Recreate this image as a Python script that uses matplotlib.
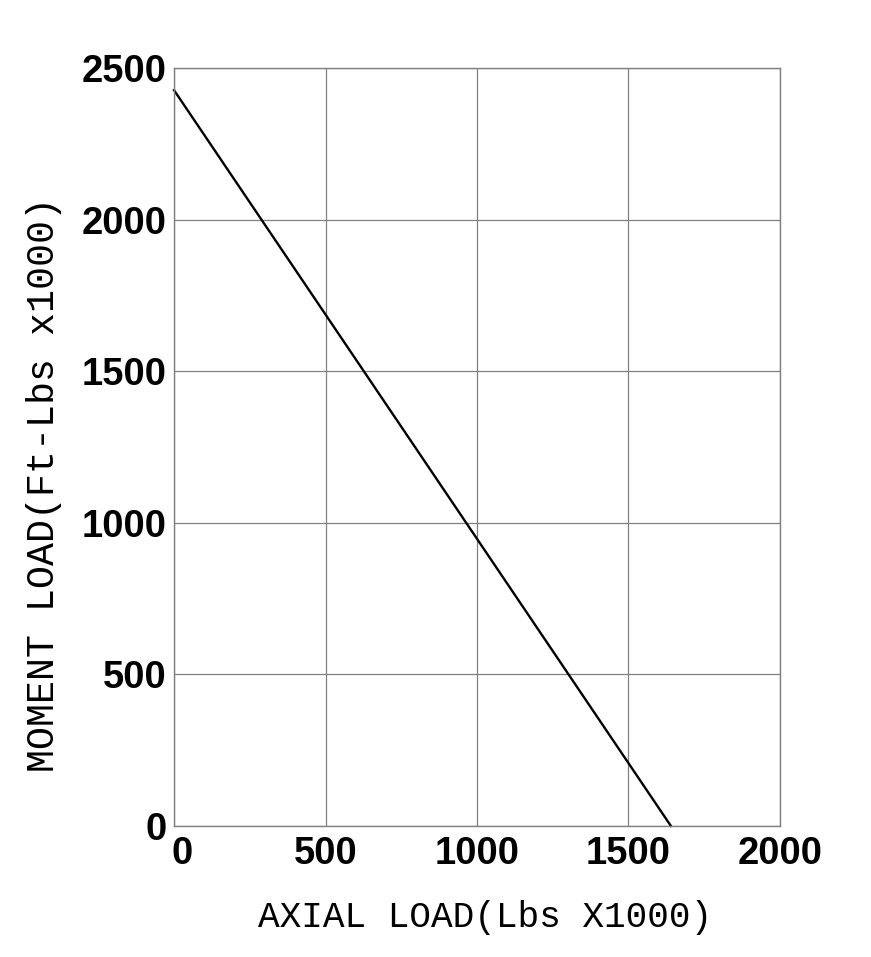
import matplotlib
matplotlib.use("Agg")
import matplotlib.pyplot as plt
import matplotlib.transforms as mtransforms

axial = [0, 1640]
moment = [2427, 0]
xticks = [0, 500, 1000, 1500, 2000]
yticks = [0, 500, 1000, 1500, 2000, 2500]

fig = plt.figure(figsize=(8.71, 9.57), dpi=100)
ax = fig.add_axes([0.1998, 0.1369, 0.6957, 0.792])
ax.plot(axial, moment, color="black", lw=1.7, clip_on=False)
ax.set_xlim(0, 2000)
ax.set_ylim(0, 2500)
ax.set_xticks(xticks)
ax.set_yticks(yticks)
ax.grid(True, color="#808080", lw=0.9)
ax.set_axisbelow(True)
for s in ax.spines.values():
    s.set_color("#808080")
    s.set_linewidth(1.0)
ax.tick_params(axis="x", length=0, pad=7)
ax.tick_params(axis="y", length=0, pad=5)
for lab in ax.get_xticklabels() + ax.get_yticklabels():
    lab.set_family("Liberation Sans")
    lab.set_fontweight("bold")
    lab.set_fontsize(27.5)
first = ax.get_xticklabels()[0]
first.set_transform(first.get_transform() + mtransforms.ScaledTranslation(0.08, 0, fig.dpi_scale_trans))
ax.set_xlabel("AXIAL LOAD(Lbs X1000)", family="Liberation Mono", fontsize=26)
ax.set_ylabel("MOMENT LOAD(Ft-Lbs x1000)", family="Liberation Mono", fontsize=27.5)
ax.xaxis.set_label_coords(0.513, -0.097)
ax.yaxis.set_label_coords(-0.185, 0.451)
fig.savefig("out.png", dpi=100)
